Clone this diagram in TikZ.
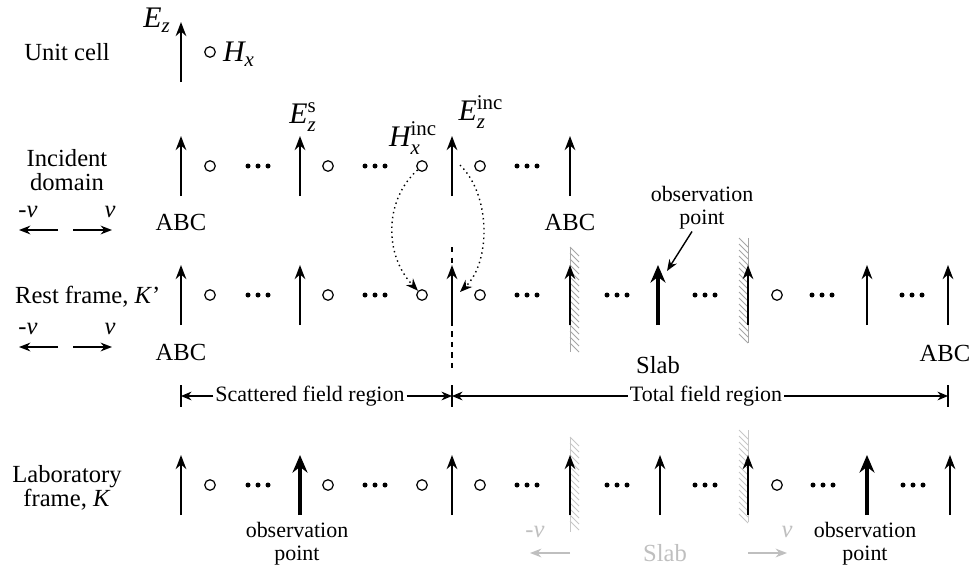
\documentclass[tikz,border=0pt]{standalone}
\usepackage{amsmath}
\usepackage{fontspec}
\setmainfont{Liberation Serif}
\usetikzlibrary{arrows.meta}
\begin{document}
\begin{tikzpicture}[x=0.02cm,y=-0.02cm,
  every node/.style={font=\fontsize{14}{14}\selectfont,inner sep=1pt},
  mathlabel/.style={font=\fontsize{17}{17}\selectfont},
  efield/.style={line width=1.4pt,-{Stealth[length=8pt,width=6pt]}},
  efieldbold/.style={line width=2.2pt,-{Stealth[length=10pt,width=8.5pt]}},
  hnode/.style={draw,circle,line width=0.7pt,minimum size=6pt,inner sep=0pt},
  velo/.style={line width=0.8pt,-{Stealth[length=6.5pt,width=5pt]}},
  dimline/.style={line width=0.6pt,-{Stealth[length=6pt,width=5pt]}},
  incmap/.style={dotted,line width=0.8pt,-{Stealth[length=7pt,width=5.5pt]}},
  smalltext/.style={font=\fontsize{12.5}{13}\selectfont,align=center}]
\useasboundingbox (0,0) rectangle (980,568);

% unit cell
\node (ucell) at (67,52) {Unit cell};
\draw[efield] (181,82) -- (181,22);
\node[hnode] (uch) at (210,52) {};
\node[mathlabel,anchor=west] (uchx) at (221,54) {$\textit{H}_{\textit{x}}$};
\node[mathlabel] (ucez) at (157,20) {$\textit{E}_{\textit{z}}$};

% incident domain
\node[align=center] (incdom) at (67,170) {Incident\\domain};
\foreach \x in {181,300,452,570} {\draw[efield] (\x,196) -- (\x,136);}
\foreach \x/\n in {210/1,328/2,422/3,480/4} {\node[hnode] (ih\n) at (\x,166) {};}
\foreach \x in {258,375,527} {\foreach \d in {-10,0,10} {\fill (\x+\d,166) circle (2.5);}}
\node[mathlabel] (ezs) at (303,117) {$\textit{E}_{\textit{z}}^{\textup{s}}$};
\node[mathlabel] (hxinc) at (413,138) {$\textit{H}_{\textit{x}}^{\textup{inc}}$};
\node[mathlabel] (ezinc) at (481,112) {$\textit{E}_{\textit{z}}^{\textup{inc}}$};
\node (abci1) at (181,222) {ABC};
\node (abci2) at (570,222) {ABC};

% velocity marks
\foreach \y/\n in {230/1,347/2} {
  \node (mv\n) at (28,\y-18) {\textit{-v}};
  \node (pv\n) at (110,\y-18) {\textit{v}};
  \draw[velo] (58,\y) -- (19,\y);
  \draw[velo] (73,\y) -- (112,\y);
}

% rest frame
\node[anchor=west] (rest) at (13,297) {Rest frame, \textit{K}’};
\draw[gray!70,line width=0.5pt] (570,247) -- (570,352) (748,238) -- (748,343);
\foreach \t in {247,253,...,344} {\draw[gray!70,line width=0.5pt] (570,\t) -- (579,\t+9);}
\foreach \t in {238,244,...,335} {\draw[gray!70,line width=0.5pt] (739,\t) -- (748,\t+9);}
\draw[dashed,line width=0.6pt] (452,247) -- (452,372);
\foreach \x in {181,300,452,570,748,867,948} {\draw[efield] (\x,325) -- (\x,265);}
\draw[efieldbold] (658,325) -- (658,265);
\foreach \x/\n in {210/1,328/2,422/3,480/4,777/5} {\node[hnode] (rh\n) at (\x,295) {};}
\foreach \x in {258,375,527,617,705,822,912} {\foreach \d in {-10,0,10} {\fill (\x+\d,295) circle (2.5);}}
\node (abcr1) at (181,352) {ABC};
\node (abcr2) at (945,353) {ABC};
\node (slabr) at (658,365) {Slab};
\node[smalltext] (obsr) at (702,208) {observation\\point};
\coordinate (obstip) at (667,271);
\draw[velo] ([xshift=-0.2cm]obsr.south) -- (obstip);

% incident fields carried into the rest frame
\coordinate (ieinc) at (460,165);
\coordinate (reinc) at (460,292);
\draw[incmap] (ih3) .. controls (384,200) and (384,255) .. (rh3);
\draw[incmap] (ieinc) .. controls (491,195) and (491,262) .. (reinc);

% regions
\foreach \x/\n in {181/1,452/2,948/3} {
  \draw[line width=0.6pt] (\x,385) -- (\x,407);
  \coordinate (dl\n) at (\x,396);
}
\node[smalltext] (scat) at (310,396) {Scattered field region};
\node[smalltext] (totl) at (706,396) {Total field region};
\draw[dimline] (scat) -- (dl1);
\draw[dimline] (scat) -- (dl2);
\draw[dimline] (totl) -- (dl2);
\draw[dimline] (totl) -- (dl3);

% laboratory frame
\node[align=center] (lab) at (67,488) {Laboratory\\frame, \textit{K}};
\draw[black!22,line width=0.5pt] (570,437) -- (570,532) (748,430) -- (748,522);
\foreach \t in {437,443,...,524} {\draw[black!22,line width=0.5pt] (570,\t) -- (579,\t+9);}
\foreach \t in {430,436,...,514} {\draw[black!22,line width=0.5pt] (739,\t) -- (748,\t+9);}
\foreach \x in {181,452,570,660,748,950} {\draw[efield] (\x,515) -- (\x,455);}
\foreach \x in {300,867} {\draw[efieldbold] (\x,515) -- (\x,455);}
\foreach \x/\n in {210/1,328/2,422/3,480/4,777/5} {\node[hnode] (lh\n) at (\x,485) {};}
\foreach \x in {258,375,527,617,705,823,913} {\foreach \d in {-10,0,10} {\fill (\x+\d,485) circle (2.5);}}
\node[smalltext] (obsl1) at (297,544) {observation\\point};
\node[smalltext] (obsl2) at (865,544) {observation\\point};
\node[text=black!25] (mvl) at (535,532) {\textit{-v}};
\node[text=black!25] (pvl) at (787,532) {\textit{v}};
\node[text=black!25] (slabl) at (665,553) {Slab};
\draw[velo,black!25] (570,553) -- (530,553);
\draw[velo,black!25] (748,553) -- (787,553);
\end{tikzpicture}
\end{document}
